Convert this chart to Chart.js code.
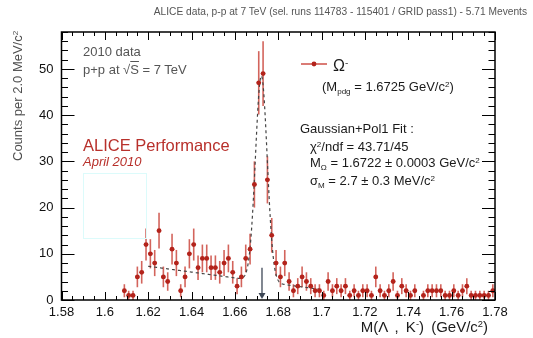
<!DOCTYPE html>
<html>
<head>
<meta charset="utf-8">
<script src="https://cdn.jsdelivr.net/npm/chart.js@4.4.1/dist/chart.umd.min.js"></script>
<style>
    html, body { margin: 0; padding: 0; background: #fff; }
    #wrap { position: relative; width: 533px; height: 338px; font-family: "Liberation Sans", Arial, sans-serif; color: #1a1a1a; }
    #c { position: absolute; left: 0; top: 0; }
    .t { position: absolute; white-space: nowrap; line-height: 1; font-weight: normal; }
    .t sub { font-size: 0.62em; vertical-align: -0.35em; }
    .t sup { font-size: 0.62em; vertical-align: 0.55em; }
    .vt { transform-origin: 0 0; transform: rotate(-90deg); }
</style>
</head>
<body>
<div id="wrap">
    <canvas id="c" width="533" height="338"></canvas>

    <div class="t" style="right:6px; top:7px; font-size:10.2px; color:#555;">ALICE data, p-p at 7 TeV (sel. runs 114783 - 115401 / GRID pass1) - 5.71 Mevents</div>

    <div class="t" style="left:83px; top:45px; font-size:13px; color:#555;">2010 data</div>
    <div class="t" style="left:83px; top:63px; font-size:13px; color:#555;">p+p at √<span style="text-decoration:overline">S</span> = 7 TeV</div>
    <div class="t" style="left:83px; top:137px; font-size:16.5px; color:#b8302b;">ALICE Performance</div>
    <div class="t" style="left:83px; top:155px; font-size:13px; color:#b8302b; font-style:italic;">April 2010</div>
    <div style="position:absolute; left:83px; top:173px; width:62px; height:64px; border:1px solid #dcfbfb;"></div>

    <div class="t" style="left:333px; top:58px; font-size:16px;">Ω<sup>-</sup></div>
    <div class="t" style="left:322px; top:80px; font-size:13px;">(M<sub>pdg</sub> = 1.6725 GeV/c<sup>2</sup>)</div>
    <div class="t" style="left:300px; top:122px; font-size:13px;">Gaussian+Pol1 Fit :</div>
    <div class="t" style="left:310px; top:140px; font-size:13px;">χ<sup>2</sup>/ndf = 43.71/45</div>
    <div class="t" style="left:310px; top:156px; font-size:13px;">M<sub>Ω</sub> = 1.6722 ± 0.0003 GeV/c<sup>2</sup></div>
    <div class="t" style="left:310px; top:174px; font-size:13px;">σ<sub>M</sub> = 2.7 ± 0.3 MeV/c<sup>2</sup></div>

    <div class="t" style="right:45px; top:319px; font-size:15px; word-spacing:3px;">M(Λ , K<sup>-</sup>) (GeV/c<sup>2</sup>)</div>
    <div class="t vt" id="ytitle" style="left:11px; top:160px; font-size:13px; color:#505050;">Counts per 2.0 MeV/c<sup>2</sup></div>
</div>

<script>
// ビン中心 (GeV/c^2) と各ビンのエントリ数 (空ビンは除く)
const massBins = [
    1.609, 1.611, 1.613, 1.615, 1.617, 1.619, 1.621, 1.623, 1.625, 1.627,
    1.629, 1.631, 1.633, 1.635, 1.637, 1.639, 1.641, 1.643, 1.645, 1.647,
    1.649, 1.651, 1.653, 1.655, 1.657, 1.659, 1.661, 1.663, 1.665, 1.667,
    1.669, 1.671, 1.673, 1.675, 1.677, 1.679, 1.681, 1.683, 1.685, 1.687,
    1.689, 1.691, 1.693, 1.695, 1.697, 1.699, 1.701, 1.703, 1.705, 1.707,
    1.709, 1.711, 1.713, 1.715, 1.717, 1.719, 1.721, 1.723, 1.725, 1.727,
    1.729, 1.731, 1.733, 1.735, 1.737, 1.739, 1.741, 1.743, 1.747, 1.749,
    1.751, 1.753, 1.755, 1.757, 1.759, 1.761, 1.763, 1.765, 1.767, 1.769,
    1.771, 1.773, 1.775, 1.777, 1.779
];
const counts = [
    2, 1, 1, 5, 6, 12, 10, 8, 15, 5,
    4, 11, 8, 2, 5, 10, 12, 7, 9, 9,
    7, 7, 6, 8, 9, 6, 3, 5, 9, 11,
    25, 47, 49, 26, 14, 8, 5, 8, 4, 2,
    3, 5, 4, 3, 2, 2, 1, 4, 2, 3,
    2, 3, 1, 2, 1, 2, 2, 1, 5, 2,
    1, 2, 4, 1, 3, 2, 1, 2, 1, 2,
    2, 2, 2, 1, 1, 2, 1, 2, 3, 1,
    1, 1, 1, 1, 2
];

// 軸の目盛ラベル
const xTickValues = [1.58, 1.60, 1.62, 1.64, 1.66, 1.68, 1.70, 1.72, 1.74, 1.76, 1.78];
const yTickValues = [0, 10, 20, 30, 40, 50];

// Gaussian + Pol1 フィット結果
const FIT_MEAN = 1.6722;      // GeV/c^2
const FIT_SIGMA = 0.0027;     // GeV/c^2
const FIT_AMP = 44.5;         // counts / bin at peak
const FIT_BKG0 = 7.3;         // background at 1.62
const FIT_BKG1 = -63;         // background slope (per GeV)
const FIT_RANGE = [1.62, 1.70];
const M_PDG = 1.6725;

const HIST_RED = '#b3231b';
const BIN_HALF = 0.001;

function fitFunc(m) {
    const g = FIT_AMP * Math.exp(-0.5 * Math.pow((m - FIT_MEAN) / FIT_SIGMA, 2));
    return g + FIT_BKG0 + FIT_BKG1 * (m - 1.62);
}

const points = massBins.map((m, i) => ({ x: m, y: counts[i] }));

const fitCurve = [];
for (let m = FIT_RANGE[0]; m <= FIT_RANGE[1] + 1e-9; m += 0.0002) {
    fitCurve.push({ x: m, y: fitFunc(m) });
}

// y 軸タイトル: 右端 (文字列の終わり) を枠の上端にそろえる
const yTitle = document.getElementById('ytitle');
yTitle.style.top = (31 + yTitle.offsetWidth) + 'px';

// 枠・内向き目盛・誤差棒・矢印・凡例を描く
const framePlugin = {
    id: 'rootFrame',
    beforeDatasetsDraw(chart) {
        const { ctx, scales: { x, y } } = chart;
        ctx.save();
        // 誤差棒 (sqrt(N))
        ctx.strokeStyle = 'rgba(196, 48, 38, 0.75)';
        ctx.lineWidth = 1.6;
        points.forEach(p => {
            const px = x.getPixelForValue(p.x);
            const err = Math.sqrt(p.y);
            ctx.beginPath();
            ctx.moveTo(px, y.getPixelForValue(Math.max(0, p.y - err)));
            ctx.lineTo(px, y.getPixelForValue(p.y + err));
            ctx.stroke();
            const py = y.getPixelForValue(p.y);
            ctx.beginPath();
            ctx.moveTo(x.getPixelForValue(p.x - BIN_HALF), py);
            ctx.lineTo(x.getPixelForValue(p.x + BIN_HALF), py);
            ctx.stroke();
        });
        ctx.restore();
    },
    afterDatasetsDraw(chart) {
        const { ctx, chartArea: a, scales: { x, y } } = chart;
        ctx.save();
        ctx.strokeStyle = '#000';
        ctx.lineWidth = 1;

        // x 目盛 (下・上)
        for (let k = 0; k <= 40; k++) {
            const v = 1.58 + k * 0.005;
            const px = Math.round(x.getPixelForValue(v)) + 0.5;
            const len = (k % 4 === 0) ? 8 : 4;
            ctx.beginPath();
            ctx.moveTo(px, a.bottom); ctx.lineTo(px, a.bottom - len);
            ctx.moveTo(px, a.top); ctx.lineTo(px, a.top + len);
            ctx.stroke();
        }
        // y 目盛 (左・右)
        for (let v = 0; v <= 58; v += 2) {
            const py = Math.round(y.getPixelForValue(v)) + 0.5;
            const len = (v % 10 === 0) ? 13 : 6.5;
            ctx.beginPath();
            ctx.moveTo(a.left, py); ctx.lineTo(a.left + len, py);
            ctx.moveTo(a.right, py); ctx.lineTo(a.right - len, py);
            ctx.stroke();
        }
        // 枠
        ctx.lineWidth = 1.5;
        ctx.strokeRect(a.left, a.top, a.right - a.left, a.bottom - a.top);

        // M_pdg の矢印
        const ax = x.getPixelForValue(M_PDG);
        const yTop = y.getPixelForValue(7);
        const yTip = y.getPixelForValue(0) - 1;
        ctx.strokeStyle = '#3d4756';
        ctx.fillStyle = '#3d4756';
        ctx.lineWidth = 1.3;
        ctx.beginPath();
        ctx.moveTo(ax, yTop); ctx.lineTo(ax, yTip - 4);
        ctx.stroke();
        ctx.beginPath();
        ctx.moveTo(ax - 3.5, yTip - 6); ctx.lineTo(ax + 3.5, yTip - 6); ctx.lineTo(ax, yTip);
        ctx.closePath();
        ctx.fill();

        // 凡例マーカー
        ctx.strokeStyle = 'rgba(196, 48, 38, 0.85)';
        ctx.lineWidth = 1.5;
        ctx.beginPath();
        ctx.moveTo(301, 64); ctx.lineTo(327, 64);
        ctx.stroke();
        ctx.fillStyle = HIST_RED;
        ctx.beginPath();
        ctx.arc(314, 64, 2.4, 0, Math.PI * 2);
        ctx.fill();
        ctx.restore();
    }
};

const tickFont = { family: '"Liberation Sans", Arial, sans-serif', size: 13 };

new Chart(document.getElementById('c').getContext('2d'), {
    type: 'scatter',
    data: {
        datasets: [
            {
                data: fitCurve,
                showLine: true,
                borderColor: '#444',
                borderWidth: 1.2,
                borderDash: [3, 3],
                pointRadius: 0,
                order: 2
            },
            {
                data: points,
                backgroundColor: HIST_RED,
                borderColor: HIST_RED,
                borderWidth: 0,
                pointRadius: 2.4,
                order: 1
            }
        ]
    },
    options: {
        responsive: false,
        animation: false,
        devicePixelRatio: 1,
        layout: { padding: { top: 32, right: 38, left: 0, bottom: 0 } },
        plugins: { legend: { display: false }, tooltip: { enabled: false } },
        scales: {
            x: {
                type: 'linear',
                min: 1.58,
                max: 1.78,
                afterFit(s) { s.height = 38; },
                afterBuildTicks(s) { s.ticks = xTickValues.map(v => ({ value: v })); },
                ticks: {
                    font: tickFont,
                    color: '#111',
                    padding: 5,
                    maxRotation: 0,
                    autoSkip: false,
                    callback: v => String(Number(v.toFixed(2)))
                },
                grid: { display: false, drawTicks: false },
                border: { display: false }
            },
            y: {
                min: 0,
                max: 58,
                afterFit(s) { s.width = 61.5; },
                afterBuildTicks(s) { s.ticks = yTickValues.map(v => ({ value: v })); },
                ticks: { font: tickFont, color: '#111', padding: 8 },
                grid: { display: false, drawTicks: false },
                border: { display: false }
            }
        }
    },
    plugins: [framePlugin]
});
</script>
</body>
</html>
